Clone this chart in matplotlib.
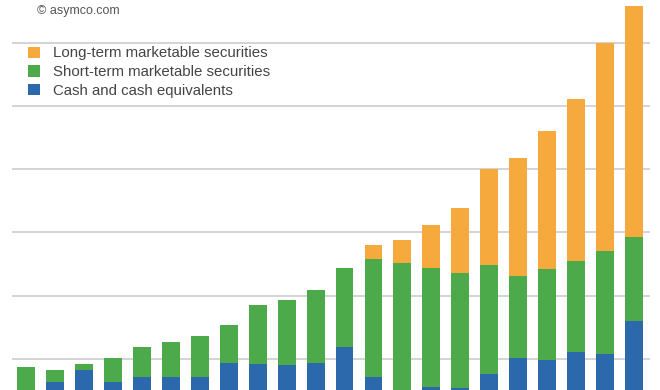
import numpy as np
import matplotlib
matplotlib.use("Agg")
import matplotlib.pyplot as plt
from matplotlib.patches import Patch

# 数据（单位：十亿美元，按图读取；底部被裁切）
cash = [8.0, 12.7, 16.5, 12.7, 14.2, 14.2, 14.2, 18.7, 18.4, 18.0, 18.7,
        23.7, 14.2, 9.0, 11.1, 10.8, 15.2, 20.3, 19.6, 22.2, 21.5, 32.0]
short_term = [9.4, 3.8, 1.9, 7.6, 9.5, 11.1, 13.0, 12.0, 18.6, 20.6, 23.1,
              25.0, 37.4, 41.3, 37.6, 36.4, 34.5, 25.9, 28.8, 28.8, 32.6, 26.6]
long_term = [0, 0, 0, 0, 0, 0, 0, 0, 0, 0, 0,
             0, 4.4, 7.3, 13.7, 20.5, 30.4, 37.4, 43.7, 51.2, 65.9, 73.1]
labels = ["Long-term marketable securities",
          "Short-term marketable securities",
          "Cash and cash equivalents"]
colors = ["#F6A93C", "#4DAA4A", "#2B69AC"]

plt.rcParams['font.family'] = ['Liberation Sans', 'DejaVu Sans']

fig = plt.figure(figsize=(6.6, 3.9), dpi=100)
ax = fig.add_axes([12 / 660, 0, 638 / 660, 1])

x = np.arange(len(cash))
cash = np.array(cash)
short_term = np.array(short_term)
long_term = np.array(long_term)
w = 0.62

ax.bar(x, cash, w, color=colors[2], zorder=2)
ax.bar(x, short_term, w, bottom=cash, color=colors[1], zorder=2)
ax.bar(x, long_term, w, bottom=cash + short_term, color=colors[0], zorder=2)

ax.set_xlim(-0.484, 21.55)
ax.set_ylim(10.1, 133.5)
ax.set_yticks([20, 40, 60, 80, 100, 120])
ax.grid(axis='y', color='#d4d4d4', linewidth=1.4, zorder=0)
ax.tick_params(left=False, bottom=False, labelleft=False, labelbottom=False)
for s in ax.spines.values():
    s.set_visible(False)

handles = [Patch(facecolor=c) for c in colors]
leg = ax.legend(handles, labels, loc='upper left', bbox_to_anchor=(0.013, 0.9),
                frameon=False, fontsize=10.8, handlelength=0.8, handleheight=0.8,
                handletextpad=0.85, labelspacing=0.3, borderpad=0)
for t in leg.get_texts():
    t.set_color('#444444')

fig.text(37 / 660, 1 - 11 / 390, "© asymco.com", fontsize=9, color='#555555',
         va='center', ha='left')

plt.savefig("out.png", dpi=100)
